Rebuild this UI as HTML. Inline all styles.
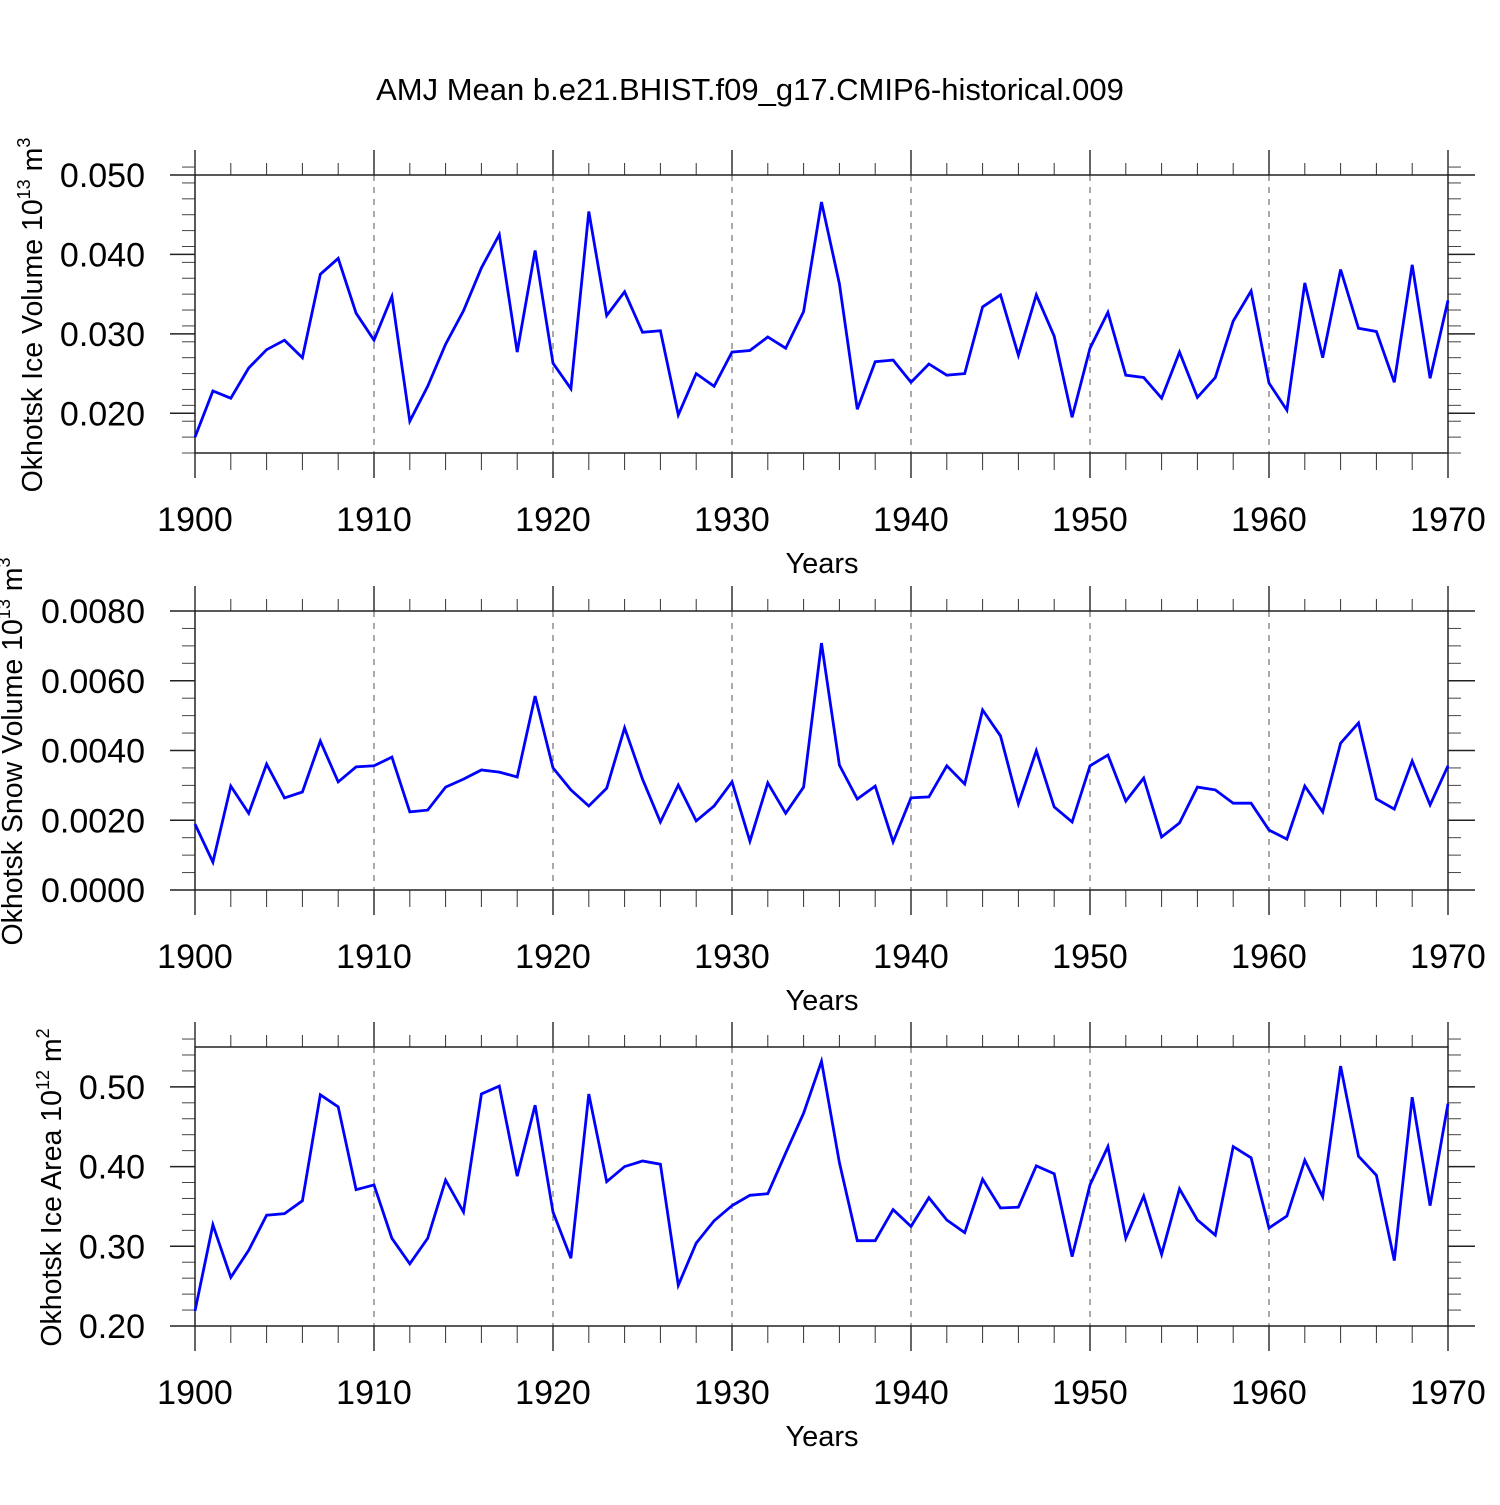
<!DOCTYPE html>
<html><head><meta charset="utf-8"><style>
body{margin:0;background:#fff}
svg text{font-family:"Liberation Sans",sans-serif;fill:#000}
</style></head><body>
<svg id="chart" width="1500" height="1500" viewBox="0 0 1500 1500" xmlns="http://www.w3.org/2000/svg">
<rect width="1500" height="1500" fill="#fff"/>
<text x="750" y="100" text-anchor="middle" font-size="31">AMJ Mean b.e21.BHIST.f09_g17.CMIP6-historical.009</text>
</svg>
<script>
const years = [];
for (let y = 1900; y <= 1970; y++) years.push(y);
const iceVolume = [0.0170,0.0228,0.0219,0.0257,0.0280,0.0292,0.0270,0.0375,0.0395,0.0326,0.0292,0.0347,0.0190,0.0234,0.0287,0.0329,0.0383,0.0425,0.0277,0.0405,0.0263,0.0231,0.0454,0.0323,0.0353,0.0302,0.0304,0.0198,0.0250,0.0234,0.0277,0.0279,0.0296,0.0282,0.0328,0.0466,0.0363,0.0205,0.0265,0.0267,0.0239,0.0262,0.0248,0.0250,0.0334,0.0349,0.0273,0.0349,0.0297,0.0195,0.0282,0.0327,0.0248,0.0245,0.0219,0.0277,0.0220,0.0245,0.0316,0.0354,0.0238,0.0204,0.0364,0.0270,0.0381,0.0307,0.0303,0.0239,0.0387,0.0244,0.0342];
const snowVolume = [0.00189,0.0008,0.00298,0.0022,0.00361,0.00264,0.00281,0.00427,0.0031,0.00353,0.00356,0.00381,0.00224,0.00229,0.00295,0.00318,0.00344,0.00338,0.00324,0.00556,0.0035,0.00287,0.00241,0.00292,0.00465,0.00318,0.00195,0.00301,0.00198,0.00241,0.0031,0.0014,0.00307,0.0022,0.00295,0.00708,0.00358,0.00261,0.00298,0.00138,0.00264,0.00267,0.00356,0.00304,0.00516,0.00442,0.00247,0.00399,0.00238,0.00195,0.00356,0.00387,0.00255,0.00321,0.00152,0.00192,0.00295,0.00287,0.00249,0.00249,0.00172,0.00146,0.00298,0.00224,0.00421,0.00479,0.00261,0.00232,0.0037,0.00244,0.00356];
const iceArea = [0.219,0.327,0.261,0.295,0.339,0.341,0.357,0.490,0.475,0.371,0.377,0.310,0.278,0.310,0.383,0.343,0.491,0.501,0.388,0.477,0.343,0.285,0.491,0.381,0.400,0.407,0.403,0.251,0.304,0.332,0.351,0.364,0.366,0.417,0.467,0.532,0.405,0.307,0.307,0.346,0.325,0.361,0.333,0.317,0.384,0.348,0.349,0.401,0.391,0.287,0.377,0.425,0.310,0.363,0.290,0.372,0.333,0.314,0.425,0.411,0.323,0.338,0.408,0.362,0.526,0.413,0.389,0.282,0.487,0.351,0.479];
const xTickLabels = ["1900","1910","1920","1930","1940","1950","1960","1970"];
const y1Ticks = ["0.020","0.030","0.040","0.050"];
const y2Ticks = ["0.0000","0.0020","0.0040","0.0060","0.0080"];
const y3Ticks = ["0.20","0.30","0.40","0.50"];

const NS = "http://www.w3.org/2000/svg";
const svg = document.getElementById('chart');
function mk(tag, attrs, parent) {
  const e = document.createElementNS(NS, tag);
  for (const k in attrs) e.setAttribute(k, attrs[k]);
  parent.appendChild(e);
  return e;
}
const X0 = 195, X1 = 1448, XMIN = 1900, XMAX = 1970;
function xs(v) { return X0 + (v - XMIN) / (XMAX - XMIN) * (X1 - X0); }

function panel(name, top, bottom, ymin, ymax, minorStep, ticks, data, titleParts, titleX) {
  const g = mk('g', {}, svg);
  
  
  const ys = v => bottom - (v - ymin) / (ymax - ymin) * (bottom - top);
  xTickLabels.forEach(t => {
    const x = xs(+t);
    if (+t > XMIN && +t < XMAX) {
      const l = mk('line', {x1:x, x2:x, y1:top, y2:bottom, stroke:'#555', 'stroke-width':1, 'stroke-dasharray':'6,6'}, g);
      
      
    }
  });
  for (let yr = XMIN; yr <= XMAX; yr += 2) {
    const x = xs(yr);
    const major = (yr % 10 === 0);
    const len = major ? 25 : 12;
    mk('line', {x1:x, x2:x, y1:top - len, y2:top, stroke:'#333', 'stroke-width':major ? 1.5 : 1}, g);
    mk('line', {x1:x, x2:x, y1:bottom, y2:bottom + (major ? 25 : 17), stroke:'#333', 'stroke-width':major ? 1.5 : 1}, g);
  }
  const nMin = Math.round((ymax - ymin) / minorStep);
  for (let i = 0; i <= nMin; i++) {
    const y = ys(ymin + i * minorStep);
    mk('line', {x1:X0 - 13, x2:X0, y1:y, y2:y, stroke:'#444', 'stroke-width':1}, g);
    mk('line', {x1:X1, x2:X1 + 13, y1:y, y2:y, stroke:'#444', 'stroke-width':1}, g);
  }
  ticks.forEach(t => {
    const y = ys(parseFloat(t));
    mk('line', {x1:X0 - 25, x2:X0, y1:y, y2:y, stroke:'#222', 'stroke-width':1.5}, g);
    mk('line', {x1:X1, x2:X1 + 27, y1:y, y2:y, stroke:'#222', 'stroke-width':1.5}, g);
    const tx = mk('text', {x:X0 - 50, y:y + 12, 'text-anchor':'end', 'font-size':34}, g);
    tx.textContent = t;
    
    
  });
  const fr = mk('rect', {x:X0, y:top, width:X1 - X0, height:bottom - top, fill:'none', stroke:'#222', 'stroke-width':1.5}, g);
  
  
  xTickLabels.forEach(t => {
    const tx = mk('text', {x:xs(+t), y:bottom + 78, 'text-anchor':'middle', 'font-size':34}, g);
    tx.textContent = t;
    
    
  });
  const xt = mk('text', {x:822, y:bottom + 120, 'text-anchor':'middle', 'font-size':29}, g);
  xt.textContent = 'Years';
  
  
  const cy = (top + bottom) / 2 + 1;
  const yt = mk('text', {x:0, y:0, 'text-anchor':'middle', 'font-size':28.5, transform:`translate(${titleX},${cy}) rotate(-90)`}, g);
  
  
  titleParts.forEach(p => {
    const s = mk('tspan', {}, yt);
    if (p.sup) { s.setAttribute('font-size', 18); s.setAttribute('dy', -12); }
    else if (p.down) { s.setAttribute('dy', 12); }
    s.textContent = p.t;
  });
  const pts = data.map((v, i) => xs(years[i]).toFixed(1) + ',' + ys(v).toFixed(1)).join(' ');
  const pl = mk('polyline', {points:pts, fill:'none', stroke:'#0000ff', 'stroke-width':2.8, 'stroke-linejoin':'miter'}, g);
  
  
}
panel('ice-volume', 175, 453, 0.015, 0.050, 0.002, y1Ticks, iceVolume,
  [{t:'Okhotsk Ice Volume 10'},{t:'13',sup:true},{t:' m',down:true},{t:'3',sup:true}], 42);
panel('snow-volume', 611, 890, 0.0, 0.008, 0.0005, y2Ticks, snowVolume,
  [{t:'Okhotsk Snow Volume 10'},{t:'13',sup:true},{t:' m',down:true},{t:'3',sup:true}], 22);
panel('ice-area', 1047, 1326, 0.20, 0.55, 0.02, y3Ticks, iceArea,
  [{t:'Okhotsk Ice Area 10'},{t:'12',sup:true},{t:' m',down:true},{t:'2',sup:true}], 61);
</script>
</body></html>
